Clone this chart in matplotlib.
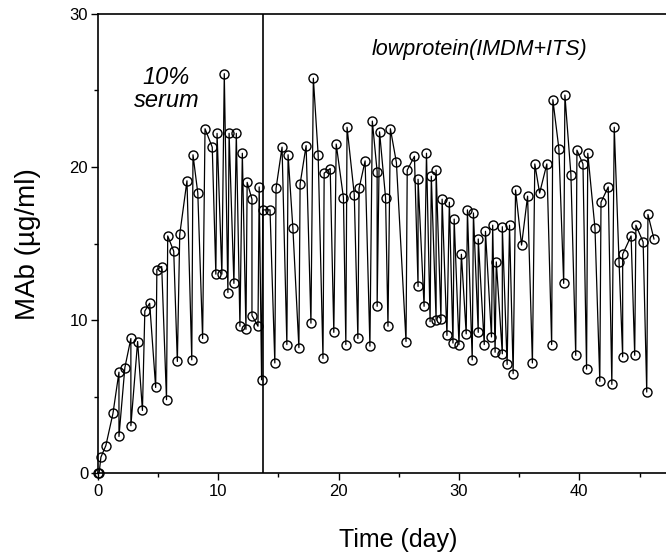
import matplotlib
matplotlib.use("Agg")
import matplotlib.pyplot as plt
from matplotlib.ticker import MultipleLocator

plt.rcParams['font.family'] = ['Liberation Sans', 'DejaVu Sans']

# sampling time (day) and MAb concentration (ug/ml)
days = [0.0, 0.1, 0.25, 0.66, 1.25, 1.75, 1.75, 2.24, 2.74, 2.74,
        3.3, 3.7, 3.9, 4.3, 4.8, 4.9, 5.3, 5.7, 5.8, 6.3,
        6.6, 6.8, 7.4, 7.8, 7.9, 8.3, 8.7, 8.9, 9.5, 9.8,
        9.9, 10.3, 10.5, 10.8, 10.9, 11.3, 11.5, 11.8, 12.0, 12.3,
        12.4, 12.8, 12.8, 13.3, 13.4, 13.6, 13.7, 14.3, 14.7, 14.8,
        15.3, 15.7, 15.8, 16.2, 16.7, 16.8, 17.3, 17.7, 17.9, 18.3,
        18.7, 18.8, 19.3, 19.6, 19.8, 20.4, 20.6, 20.7, 21.3, 21.6,
        21.7, 22.2, 22.6, 22.8, 23.2, 23.2, 23.4, 23.9, 24.1, 24.3,
        24.8, 25.6, 25.7, 26.3, 26.6, 26.6, 27.1, 27.3, 27.6, 27.7,
        28.1, 28.1, 28.5, 28.6, 29.0, 29.2, 29.5, 29.6, 30.0, 30.2,
        30.6, 30.7, 31.1, 31.2, 31.6, 31.6, 32.1, 32.2, 32.7, 32.8,
        33.0, 33.1, 33.6, 33.6, 34.0, 34.2, 34.5, 34.7, 35.2, 35.7,
        36.1, 36.3, 36.7, 37.3, 37.7, 37.8, 38.3, 38.7, 38.8, 39.3,
        39.7, 39.8, 40.3, 40.6, 40.7, 41.3, 41.7, 41.8, 42.4, 42.7,
        42.9, 43.3, 43.6, 43.6, 44.3, 44.6, 44.7, 45.3, 45.6, 45.7,
        46.2]
mab = [0.0, 0.0, 1.05, 1.8, 3.9, 6.6, 2.4, 6.9, 8.8, 3.1,
       8.6, 4.1, 10.6, 11.1, 5.6, 13.3, 13.5, 4.8, 15.5, 14.5,
       7.3, 15.6, 19.1, 7.4, 20.8, 18.3, 8.8, 22.5, 21.3, 13.0,
       22.2, 13.0, 26.1, 11.8, 22.2, 12.4, 22.2, 9.6, 20.9, 9.4,
       19.0, 17.9, 10.3, 9.6, 18.7, 6.1, 17.2, 17.2, 7.2, 18.6,
       21.3, 8.4, 20.8, 16.0, 8.2, 18.9, 21.4, 9.8, 25.8, 20.8,
       7.5, 19.6, 19.9, 9.2, 21.5, 18.0, 8.4, 22.6, 18.2, 8.8,
       18.6, 20.4, 8.3, 23.0, 19.7, 10.9, 22.3, 18.0, 9.6, 22.5,
       20.3, 8.6, 19.8, 20.7, 12.2, 19.2, 10.9, 20.9, 9.9, 19.4,
       10.0, 19.8, 10.1, 17.9, 9.0, 17.7, 8.5, 16.6, 8.4, 14.3,
       9.1, 17.2, 7.4, 17.0, 9.2, 15.3, 8.4, 15.8, 8.9, 16.2,
       7.9, 13.8, 7.8, 16.1, 7.1, 16.2, 6.5, 18.5, 14.9, 18.1,
       7.2, 20.2, 18.3, 20.2, 8.4, 24.4, 21.2, 12.4, 24.7, 19.5,
       7.7, 21.1, 20.2, 6.8, 20.9, 16.0, 6.0, 17.7, 18.7, 5.8,
       22.6, 13.8, 7.6, 14.3, 15.5, 7.7, 16.2, 15.1, 5.3, 16.9,
       15.3]

switch_day = 13.7

fig = plt.figure(figsize=(6.66, 5.58), dpi=100)
ax = fig.add_axes([0.147, 0.152, 0.853, 0.823])

ax.plot(days, mab, color='black', lw=0.9, marker='o', ms=6.5,
        mfc='none', mec='black', mew=1.0, clip_on=False, zorder=3)
ax.axvline(switch_day, color='black', lw=1.2)

ax.set_xlim(0, 47.2)
ax.set_ylim(0, 30)
ax.xaxis.set_major_locator(MultipleLocator(10))
ax.xaxis.set_minor_locator(MultipleLocator(5))
ax.yaxis.set_major_locator(MultipleLocator(10))
ax.yaxis.set_minor_locator(MultipleLocator(5))
ax.tick_params(which='major', direction='out', length=5, width=1,
               labelsize=12)
ax.tick_params(axis='y', which='major', pad=2)
ax.tick_params(axis='x', which='major', pad=3)
ax.tick_params(which='minor', direction='out', length=3, width=1)
ax.spines['right'].set_visible(False)
for s in ['left', 'bottom', 'top']:
    ax.spines[s].set_linewidth(1.2)

ax.set_xlabel('Time (day)', fontsize=18)
ax.xaxis.set_label_coords(0.528, -0.12)
ax.set_ylabel('MAb (µg/ml)', fontsize=20)
ax.yaxis.set_label_coords(-0.10, 0.5)

ax.text(5.7, 25.1, '10%\nserum', fontsize=17, style='italic',
        ha='center', va='center', linespacing=1.0)
ax.text(31.7, 27.7, 'lowprotein(IMDM+ITS)', fontsize=15.5, style='italic',
        ha='center', va='center')

fig.savefig('out.png', dpi=100)
